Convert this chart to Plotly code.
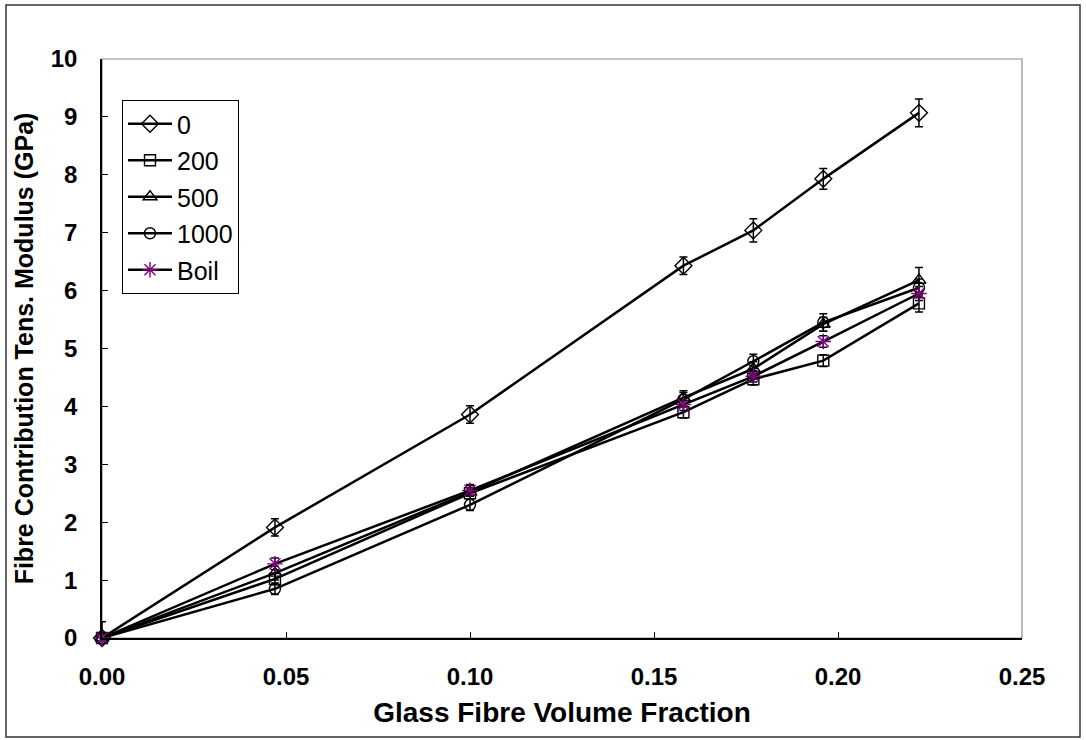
import plotly.graph_objects as go

# Glass fibre volume fraction (x) shared by all series
vf = [0.0, 0.047, 0.100, 0.158, 0.177, 0.196, 0.222]

# Fibre contribution to tensile modulus (GPa) per conditioning series
series_names = ["0", "200", "500", "1000", "Boil"]
mod_0 = [0.0, 1.91, 3.86, 6.43, 7.04, 7.93, 9.07]
mod_200 = [0.0, 1.02, 2.50, 3.90, 4.47, 4.79, 5.78]
mod_500 = [0.0, 1.12, 2.52, 4.15, 4.65, 5.42, 6.18]
mod_1000 = [0.0, 0.85, 2.30, 4.12, 4.78, 5.45, 6.05]
mod_boil = [0.0, 1.28, 2.55, 4.03, 4.52, 5.12, 5.95]

# Error bar half-heights (GPa)
err_0 = [0.0, 0.15, 0.15, 0.15, 0.20, 0.18, 0.24]
err_200 = [0.0, 0.10, 0.10, 0.10, 0.10, 0.10, 0.15]
err_500 = [0.28, 0.12, 0.12, 0.12, 0.12, 0.12, 0.22]
err_1000 = [0.0, 0.10, 0.10, 0.12, 0.12, 0.15, 0.15]
err_boil = [0.0, 0.10, 0.10, 0.10, 0.10, 0.10, 0.12]

x_ticks = [0.0, 0.05, 0.10, 0.15, 0.20, 0.25]
y_ticks = list(range(0, 11))

FONT = "Liberation Sans, Arial, sans-serif"
PURPLE = "#800080"

styles = [
    ("diamond-open", 13, "black"),
    ("square-open", 11, "black"),
    ("triangle-up-open", 12, "black"),
    ("circle-open", 11, "black"),
    ("asterisk-open", 13, PURPLE),
]
values = [mod_0, mod_200, mod_500, mod_1000, mod_boil]
errors = [err_0, err_200, err_500, err_1000, err_boil]

fig = go.Figure()
for i, (name, yv, ev, (sym, sz, col)) in enumerate(zip(series_names, values, errors, styles)):
    # lower whisker is suppressed at the origin so it stays above the axis
    ev_minus = [0.0 if y == 0 else e for y, e in zip(yv, ev)]
    fig.add_trace(go.Scatter(
        x=vf, y=yv, name=name, mode="lines+markers",
        legendgroup=f"g{i}",
        line=dict(color="black", width=2.5),
        marker=dict(symbol=sym, size=sz, color=col, line=dict(width=1.4, color=col)),
        error_y=dict(type="data", array=ev, arrayminus=ev_minus, symmetric=False,
                     color="black", thickness=1.5, width=4),
        cliponaxis=False,
    ))

W, H = 1086, 740
L, R, T, B = 102, 64, 59, 102
pw, ph = W - L - R, H - T - B


def px_x(p):
    return (p - L) / pw


def px_y(p):
    return (H - B - p) / ph


fig.update_layout(
    width=W, height=H,
    margin=dict(l=L, r=R, t=T, b=B),
    paper_bgcolor="white", plot_bgcolor="white",
    font=dict(family=FONT, color="black"),
    showlegend=True,
    legend=dict(
        x=px_x(122), y=px_y(100), xanchor="left", yanchor="top",
        bgcolor="white", bordercolor="black", borderwidth=1,
        font=dict(family=FONT, size=25, color="black"),
        tracegroupgap=1, itemwidth=44,
    ),
    xaxis=dict(
        range=[0, 0.25], tickvals=x_ticks, tickformat=".2f",
        showgrid=False, zeroline=False,
        showline=True, linecolor="black", linewidth=1.5,
        ticks="inside", ticklen=6, tickwidth=1.3, tickcolor="black",
        tickfont=dict(family=FONT, size=24, weight="bold"),
        ticklabelstandoff=16,
        title=dict(text="Glass Fibre Volume Fraction",
                   font=dict(family=FONT, size=28, weight="bold"), standoff=14),
    ),
    yaxis=dict(
        range=[0, 10], tickvals=y_ticks,
        showgrid=False, zeroline=False,
        showline=True, linecolor="black", linewidth=1.5,
        ticks="inside", ticklen=6, tickwidth=1.3, tickcolor="black",
        tickfont=dict(family=FONT, size=24, weight="bold"),
        ticklabelstandoff=18,
        title=dict(text="Fibre Contribution Tens. Modulus (GPa)",
                   font=dict(family=FONT, size=25, weight="bold"), standoff=10),
    ),
    shapes=[
        # plot area frame (grey) behind the black axis lines
        dict(type="rect", xref="paper", yref="paper", x0=0, x1=1, y0=0, y1=1,
             line=dict(color="#8c8c8c", width=1.2), layer="below"),
        # chart outer frame
        dict(type="rect", xref="paper", yref="paper",
             x0=px_x(6), x1=px_x(1080), y0=px_y(737), y1=px_y(5),
             line=dict(color="#333333", width=1.5), layer="below"),
    ],
)

fig.write_html("out.html")
